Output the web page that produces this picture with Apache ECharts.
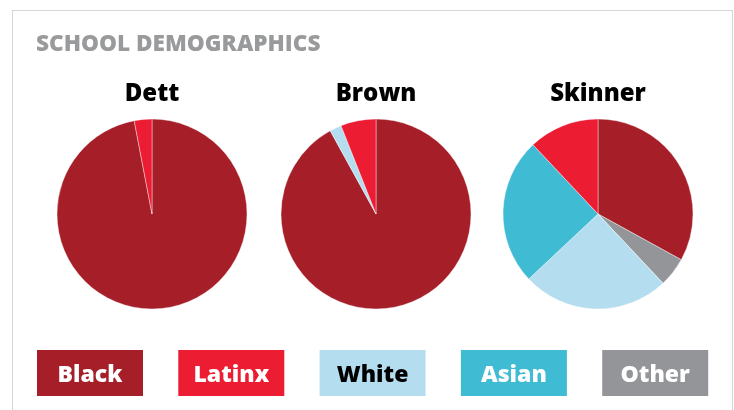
<!DOCTYPE html>
<html>
<head>
<meta charset="utf-8">
<script src="https://cdn.jsdelivr.net/npm/echarts@6/dist/echarts.min.js"></script>
<style>
  html, body { margin: 0; padding: 0; background: #fff; }
  #frame { position: absolute; left: 12px; top: 10px; width: 719px; height: 410px;
           border-left: 1px solid #d6d6d6; border-top: 1px solid #d6d6d6; border-right: 1px solid #d6d6d6; }
  #chart { position: absolute; left: 0; top: 0; width: 734px; height: 410px; }
</style>
</head>
<body>
<div id="frame"></div>
<div id="chart"></div>
<script>
// Racial makeup of each school, percent of enrolled students
const groups = ['Black', 'Latinx', 'White', 'Asian', 'Other'];
const groupColors = ['#A51E28', '#EC1C33', '#B5DDF0', '#40BBD4', '#939598'];
const groupTextColors = ['#fff', '#fff', '#000', '#fff', '#fff'];
const schools = ['Dett', 'Brown', 'Skinner'];
// slice order, clockwise from 12 o'clock
const sliceOrder = ['Black', 'Other', 'White', 'Asian', 'Latinx'];
const dett =    { Black: 97, Latinx: 3, White: 0, Asian: 0, Other: 0 };
const brown =   { Black: 92, Latinx: 6, White: 2, Asian: 0, Other: 0 };
const skinner = { Black: 33, Latinx: 12, White: 25, Asian: 25, Other: 5 };
const schoolValues = [dett, brown, skinner];

const pieCenters = [152, 376, 598];
const colorOf = name => groupColors[groups.indexOf(name)];
const FONT = '"Open Sans"';

const chart = echarts.init(document.getElementById('chart'), null, { renderer: 'canvas' });

const titles = [{
  text: 'SCHOOL DEMOGRAPHICS',
  left: 36, top: 33, padding: 0,
  textStyle: { fontFamily: FONT, fontWeight: 800, fontSize: 22.6, color: '#999a9c' }
}];
schools.forEach((s, i) => {
  titles.push({
    text: s,
    left: pieCenters[i], top: 82, padding: 0, textAlign: 'center',
    textStyle: { fontFamily: FONT, fontWeight: 800, fontSize: 24, color: '#000' }
  });
});

const series = schools.map((s, i) => ({
  type: 'pie',
  name: s,
  center: [pieCenters[i], 214],
  radius: 95,
  startAngle: 90,
  clockwise: true,
  silent: true,
  label: { show: false },
  labelLine: { show: false },
  itemStyle: { borderColor: '#fff', borderWidth: 0.4 },
  data: sliceOrder
    .filter(g => schoolValues[i][g] > 0)
    .map(g => ({ name: g, value: schoolValues[i][g], itemStyle: { color: colorOf(g) } }))
}));

// colour key: a filled box per group with its name inside
const keyGraphics = groups.map((g, i) => ({
  type: 'group',
  left: 37 + i * 141.3,
  top: 350,
  children: [
    { type: 'rect', shape: { x: 0, y: 0, width: 106, height: 46 }, style: { fill: groupColors[i] } },
    { type: 'text', x: 53, y: 25,
      style: { text: g, fill: groupTextColors[i], font: '800 23px ' + FONT, align: 'center', verticalAlign: 'middle' } }
  ]
}));

chart.setOption({
  animation: false,
  title: titles,
  series: series,
  graphic: keyGraphics
});
</script>
</body>
</html>
